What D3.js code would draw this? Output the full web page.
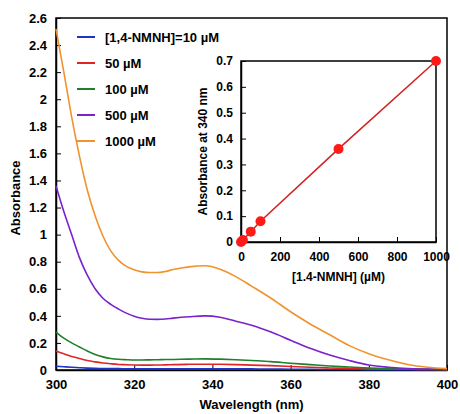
<!DOCTYPE html>
<html>
<head>
<meta charset="utf-8">
<script src="https://cdn.jsdelivr.net/npm/d3@7"></script>
<style>
  body { margin: 0; background: #fff; }
  svg { display: block; font-family: "Liberation Sans", Arial, sans-serif; font-weight: bold; }
  .axis path, .axis line { stroke: #000; }
</style>
</head>
<body>
<svg width="460" height="414"></svg>
<script>
// wavelengths (nm)
const wavelengths = [300,302,304,306,308,310,312,314,316,318,320,322,324,326,328,330,334,338,342,346,350,355,360,365,370,375,380,385,390,395,400];
const abs10   = [0.028,0.024,0.02,0.017,0.014,0.012,0.011,0.010,0.010,0.009,0.009,0.009,0.009,0.009,0.009,0.009,0.009,0.009,0.009,0.008,0.008,0.007,0.006,0.005,0.004,0.004,0.003,0.003,0.002,0.002,0.002];
const abs50   = [0.14,0.12,0.10,0.085,0.07,0.06,0.052,0.046,0.041,0.039,0.037,0.036,0.036,0.037,0.038,0.04,0.042,0.043,0.042,0.04,0.036,0.032,0.026,0.02,0.015,0.011,0.008,0.006,0.005,0.004,0.003];
const abs100  = [0.28,0.235,0.2,0.17,0.14,0.115,0.097,0.085,0.079,0.076,0.074,0.074,0.075,0.076,0.077,0.078,0.080,0.082,0.080,0.076,0.07,0.062,0.05,0.04,0.03,0.022,0.015,0.01,0.007,0.005,0.004];
const abs500  = [1.36,1.17,1.0,0.83,0.70,0.60,0.53,0.485,0.45,0.42,0.397,0.382,0.375,0.374,0.377,0.383,0.393,0.40,0.39,0.36,0.33,0.28,0.22,0.16,0.11,0.07,0.037,0.02,0.01,0.007,0.005];
const abs1000 = [2.52,2.20,1.87,1.58,1.33,1.14,0.99,0.88,0.81,0.765,0.74,0.725,0.72,0.72,0.728,0.742,0.762,0.77,0.745,0.69,0.62,0.53,0.43,0.34,0.26,0.18,0.12,0.075,0.04,0.02,0.01];
const seriesLabels = ["[1,4-NMNH]=10 \u00b5M", "50 \u00b5M", "100 \u00b5M", "500 \u00b5M", "1000 \u00b5M"];
const seriesColors = ["#1c35c4", "#e02424", "#1f7f2a", "#7a22cc", "#f0922e"];

// inset: concentration vs absorbance at 340 nm
const conc = [0, 10, 50, 100, 500, 1000];
const abs340 = [0, 0.008, 0.04, 0.08, 0.36, 0.70];

const xTicks = [300, 320, 340, 360, 380, 400];
const yTicks = d3.range(0, 2.61, 0.2);
const insetXTicks = [0, 200, 400, 600, 800, 1000];
const insetYTicks = [0, 0.1, 0.2, 0.3, 0.4, 0.5, 0.6, 0.7];

const svg = d3.select("svg");

let mLeft = 56, mRight = 447, mTop = 18, mBottom = 370;

let x = d3.scaleLinear().domain([300, 400]).range([mLeft, mRight]);
let y = d3.scaleLinear().domain([0, 2.6]).range([mBottom, mTop]);

// frame
svg.append("rect")
    .attr("x", mLeft).attr("y", mTop)
    .attr("width", mRight - mLeft).attr("height", mBottom - mTop)
    .attr("fill", "none").attr("stroke", "#000").attr("stroke-width", 1.5);

svg.append("g")
    .attr("class", "axis")
    .attr("transform", `translate(0, ${mBottom})`)
    .call(d3.axisBottom(x).tickValues(xTicks).tickSizeInner(-5).tickSizeOuter(0).tickPadding(10))
    .call(g => g.select(".domain").attr("stroke-width", 1.5))
    .call(g => g.selectAll("text").attr("font-size", 13).attr("font-weight", "bold").attr("font-family", "Liberation Sans, Arial, sans-serif").attr("fill", "#000"));

svg.append("g")
    .attr("class", "axis")
    .attr("transform", `translate(${mLeft}, 0)`)
    .call(d3.axisLeft(y).tickValues(yTicks).tickFormat(d3.format("~g")).tickSizeInner(-5).tickSizeOuter(0).tickPadding(9))
    .call(g => g.select(".domain").attr("stroke-width", 1.5))
    .call(g => g.selectAll("text").attr("font-size", 13).attr("font-weight", "bold").attr("font-family", "Liberation Sans, Arial, sans-serif").attr("fill", "#000"));

// axis labels
svg.append("text")
    .attr("x", (mLeft + mRight) / 2).attr("y", 409)
    .attr("text-anchor", "middle").attr("font-size", 13)
    .text("Wavelength (nm)");

svg.append("text")
    .attr("transform", "rotate(-90)")
    .attr("x", -198).attr("y", 20)
    .attr("text-anchor", "middle").attr("font-size", 13)
    .text("Absorbance");

// spectra
let allSeries = [abs10, abs50, abs100, abs500, abs1000];
let line = d3.line()
    .x((d, i) => x(wavelengths[i]))
    .y(d => y(d))
    .curve(d3.curveMonotoneX);

svg.append("g").selectAll("path")
    .data(allSeries)
    .enter()
    .append("path")
    .attr("d", d => line(d))
    .attr("fill", "none")
    .attr("stroke", (d, i) => seriesColors[i])
    .attr("stroke-width", 1.6);

// legend
let legend = svg.append("g").selectAll("g")
    .data(seriesLabels)
    .enter()
    .append("g")
    .attr("transform", (d, i) => `translate(77, ${37 + i * 26})`);

legend.append("line")
    .attr("x1", 0).attr("x2", 18)
    .attr("stroke", (d, i) => seriesColors[i])
    .attr("stroke-width", 2);

legend.append("text")
    .attr("x", 28).attr("dy", "0.36em")
    .attr("font-size", 13)
    .text(d => d);

// inset
let iLeft = 241, iRight = 436, iTop = 61, iBottom = 242;
let ix = d3.scaleLinear().domain([0, 1000]).range([iLeft, iRight]);
let iy = d3.scaleLinear().domain([0, 0.7]).range([iBottom, iTop]);

svg.append("rect")
    .attr("x", iLeft).attr("y", iTop)
    .attr("width", iRight - iLeft).attr("height", iBottom - iTop)
    .attr("fill", "#fff").attr("stroke", "#000").attr("stroke-width", 1.5);

svg.append("g")
    .attr("class", "axis")
    .attr("transform", `translate(0, ${iBottom})`)
    .call(d3.axisBottom(ix).tickValues(insetXTicks).tickFormat(d3.format("d")).tickSizeInner(-5).tickSizeOuter(0).tickPadding(10))
    .call(g => g.select(".domain").attr("stroke-width", 1.5))
    .call(g => g.selectAll("text").attr("font-size", 12).attr("font-weight", "bold").attr("font-family", "Liberation Sans, Arial, sans-serif").attr("fill", "#000"));

svg.append("g")
    .attr("class", "axis")
    .attr("transform", `translate(${iLeft}, 0)`)
    .call(d3.axisLeft(iy).tickValues(insetYTicks).tickFormat(d3.format("~g")).tickSizeInner(-5).tickSizeOuter(0).tickPadding(8))
    .call(g => g.select(".domain").attr("stroke-width", 1.5))
    .call(g => g.selectAll("text").attr("font-size", 12).attr("font-weight", "bold").attr("font-family", "Liberation Sans, Arial, sans-serif").attr("fill", "#000"));

svg.append("text")
    .attr("x", (iLeft + iRight) / 2).attr("y", 281)
    .attr("text-anchor", "middle").attr("font-size", 12)
    .text("[1.4-NMNH] (\u00b5M)");

svg.append("text")
    .attr("transform", "rotate(-90)")
    .attr("x", -(iTop + iBottom) / 2).attr("y", 207)
    .attr("text-anchor", "middle").attr("font-size", 12)
    .text("Absorbance at 340 nm");

let insetLine = d3.line()
    .x((d, i) => ix(conc[i]))
    .y(d => iy(d));

svg.append("path")
    .attr("d", insetLine(abs340))
    .attr("fill", "none")
    .attr("stroke", "#d42020")
    .attr("stroke-width", 1.5);

svg.append("g").selectAll("circle")
    .data(abs340)
    .enter()
    .append("circle")
    .attr("cx", (d, i) => ix(conc[i]))
    .attr("cy", d => iy(d))
    .attr("r", 5)
    .attr("fill", "#ff1a1a");
</script>
</body>
</html>
